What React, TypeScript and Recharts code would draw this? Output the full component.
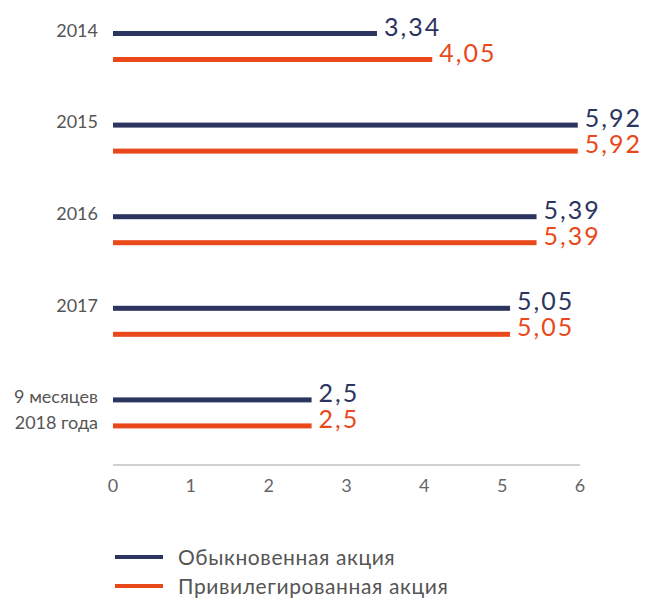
import React from "react";
import { BarChart, Bar, XAxis, YAxis, Legend, LabelList } from "recharts";

const categories = ["2014", "2015", "2016", "2017", "9 месяцев\n2018 года"];
const ordinaryValues = [3.34, 5.92, 5.39, 5.05, 2.5];
const preferredValues = [4.05, 5.92, 5.39, 5.05, 2.5];
const xTicks = [0, 1, 2, 3, 4, 5, 6];
const seriesNames = ["Обыкновенная акция", "Привилегированная акция"];

const NAVY = "#2c355f";
const ORANGE = "#e9491a";
const FONT = "Lato, 'Open Sans', sans-serif";

const data = categories.map((c, i) => ({
  name: c,
  ordinary: ordinaryValues[i],
  preferred: preferredValues[i],
}));

const fmt = (v: number) => String(v).replace(".", ",");

const makeShape = (color: string) => (props: any) => (
  <rect x={props.x} y={props.y} width={Math.max(0, props.width + 4)} height={props.height} fill={color} />
);

const makeLabel = (color: string) => (props: any) => {
  const { x, y, width, height, value } = props;
  return (
    <text
      x={x + width + 11}
      y={y + height / 2 + 2}
      fill={color}
      fontSize={25}
      fontFamily={FONT}
      letterSpacing={2}
      textAnchor="start"
    >
      {fmt(value)}
    </text>
  );
};

const YTick = (props: any) => {
  const { x, y, payload } = props;
  const lines = String(payload.value).split("\n");
  return (
    <g>
      {lines.map((l, i) => (
        <text
          key={i}
          x={x - 7}
          y={y - 13 + i * 26 + 3}
          textAnchor="end"
          fill="#555"
          fontSize={18}
          fontFamily={FONT}
        >
          {l}
        </text>
      ))}
    </g>
  );
};

const LegendContent = () => (
  <div style={{ fontFamily: FONT }}>
    {seriesNames.map((n, i) => (
      <div key={n} style={{ display: "flex", alignItems: "center", height: 29 }}>
        <div style={{ width: 48, height: 4, background: i === 0 ? NAVY : ORANGE, marginRight: 15 }} />
        <span style={{ fontSize: 21, color: "#555", letterSpacing: 0.6 }}>{n}</span>
      </div>
    ))}
  </div>
);

export default function App() {
  return (
    <div style={{ position: "absolute", left: 0, top: 0, background: "#fff" }}>
      <BarChart
        width={649}
        height={601}
        data={data}
        layout="vertical"
        margin={{ top: 1, right: 69, left: 0, bottom: 106 }}
        barGap={21}
        barSize={5}
      >
        <XAxis
          type="number"
          domain={[0, 6]}
          ticks={xTicks}
          interval={0}
          axisLine={{ stroke: "#d0d0d0", strokeWidth: 2 }}
          tickLine={false}
          tickSize={6}
          tickMargin={8}
          height={30}
          tick={{ fill: "#666", fontSize: 18, fontFamily: FONT }}
        />
        <YAxis
          type="category"
          dataKey="name"
          width={113}
          axisLine={false}
          tickLine={false}
          padding={{ top: 0, bottom: 6 }}
          tick={<YTick />}
          interval={0}
        />
        <Legend
          layout="vertical"
          align="center"
          verticalAlign="middle"
          content={<LegendContent />}
          wrapperStyle={{ top: 542, left: 115, width: 420 }}
        />
        <Bar dataKey="ordinary" name={seriesNames[0]} fill={NAVY} isAnimationActive={false} shape={makeShape(NAVY)}>
          <LabelList dataKey="ordinary" content={makeLabel(NAVY)} />
        </Bar>
        <Bar dataKey="preferred" name={seriesNames[1]} fill={ORANGE} isAnimationActive={false} shape={makeShape(ORANGE)}>
          <LabelList dataKey="preferred" content={makeLabel(ORANGE)} />
        </Bar>
      </BarChart>
    </div>
  );
}
